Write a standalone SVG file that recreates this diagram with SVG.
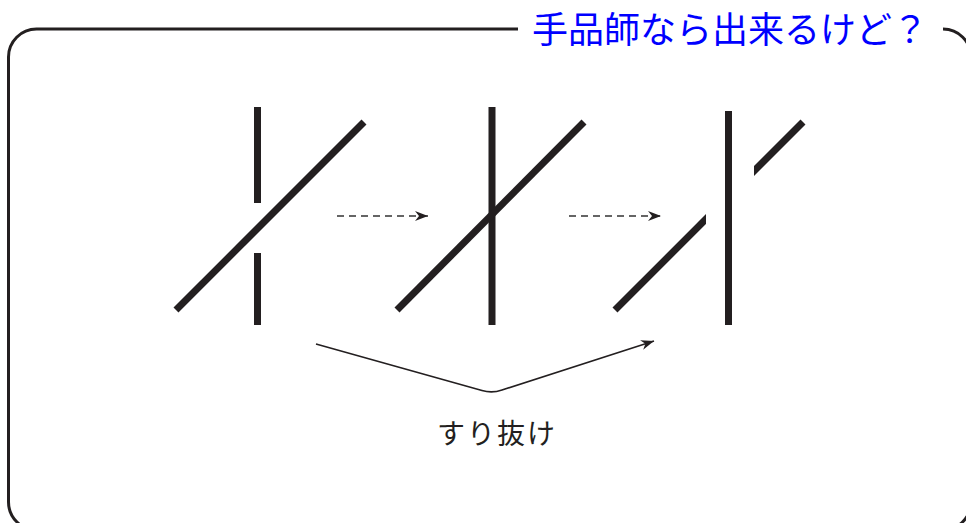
<svg xmlns="http://www.w3.org/2000/svg" width="966" height="523" viewBox="0 0 966 523">
  <style>
    .bar { stroke: #231f20; stroke-width: 7; stroke-linecap: butt; fill: none; }
    .dash { stroke: #333333; stroke-width: 1.6; stroke-dasharray: 7 5; fill: none; }
    .conn { stroke: #231f20; stroke-width: 1.6; fill: none; }
    .frame { stroke: #231f20; stroke-width: 3; fill: none; }
    .title { font-family: "Noto Sans CJK JP", "Noto Sans", sans-serif; font-size: 36px; fill: #0000ff; }
    .label { font-family: "Noto Sans CJK JP", "Noto Sans", sans-serif; font-size: 28px; fill: #231f20; letter-spacing: 2px; }
  </style>
  <defs>
    <marker id="ah" markerUnits="userSpaceOnUse" markerWidth="16" markerHeight="12" viewBox="-14 -6 16 12" refX="0" refY="0" orient="auto">
      <path d="M0,0 L-13,-5 L-9,0 L-13,5 Z" fill="#231f20"/>
    </marker>
    <clipPath id="gap">
      <rect x="0" y="0" width="706" height="523"/>
      <rect x="754" y="0" width="212" height="523"/>
    </clipPath>
  </defs>
  <rect width="966" height="523" fill="#ffffff"/>

  <g id="frame">
    <path class="frame" d="M943,29 A28,28 0 0 1 971,57 V502 A28,28 0 0 1 943,530 H36.5 A28,28 0 0 1 8.5,502 V57 A28,28 0 0 1 36.5,29 H518"/>
    <text class="title" x="532" y="43">手品師なら出来るけど？</text>
  </g>

  <g id="state1">
    <line class="bar" x1="257.5" y1="107" x2="257.5" y2="203"/>
    <line class="bar" x1="257.5" y1="253" x2="257.5" y2="325"/>
    <line class="bar" x1="176" y1="310" x2="364" y2="122"/>
  </g>

  <g id="state2">
    <line class="bar" x1="492" y1="107" x2="492" y2="325"/>
    <line class="bar" x1="397" y1="310" x2="584" y2="122"/>
  </g>

  <g id="state3">
    <line class="bar" x1="728.5" y1="111" x2="728.5" y2="325"/>
    <line class="bar" x1="615" y1="310" x2="803" y2="122" clip-path="url(#gap)"/>
  </g>

  <g id="connectors">
    <line class="dash" x1="337" y1="216" x2="428" y2="216" marker-end="url(#ah)"/>
    <line class="dash" x1="569" y1="216" x2="661" y2="216" marker-end="url(#ah)"/>
    <path class="conn" d="M316,344 L482,390.5 Q492,393.5 502,390 L654,341" marker-end="url(#ah)"/>
  </g>

  <g id="label">
    <text class="label" x="497" y="444" text-anchor="middle">すり抜け</text>
  </g>
</svg>
